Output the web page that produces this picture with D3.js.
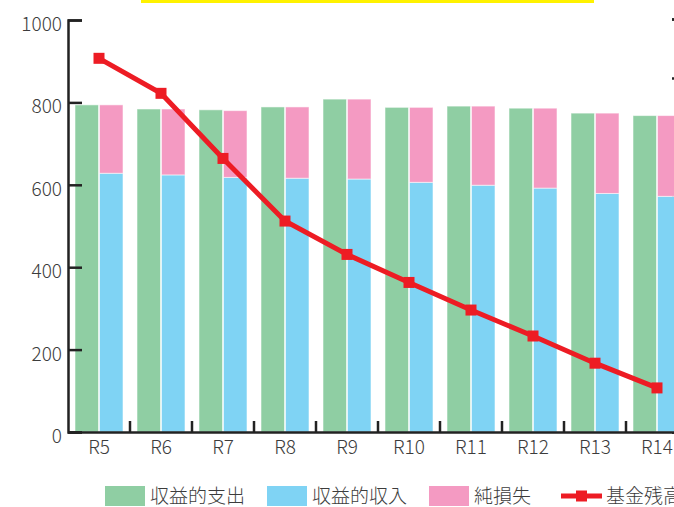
<!DOCTYPE html>
<html>
<head>
<meta charset="utf-8">
<script src="https://cdn.jsdelivr.net/npm/d3@7"></script>
<style>
  body { margin: 0; overflow: hidden; background: #fff; }
  text { font-family: "Noto Sans CJK JP", "Noto Sans", sans-serif; fill: #3c3c3c; font-weight: 300; }
</style>
</head>
<body>
<div id="wrapper"></div>
<script>
// data
const categories = ["R5", "R6", "R7", "R8", "R9", "R10", "R11", "R12", "R13", "R14"]
const expense = [794, 784, 782, 789, 808, 788, 791, 786, 774, 768]   // 収益的支出
const income = [628, 624, 618, 616, 614, 606, 599, 592, 579, 572]    // 収益的収入
const netLoss = [166, 160, 162, 173, 194, 182, 192, 194, 195, 196]   // 純損失
const fundBalance = [907, 822, 664, 512, 431, 363, 296, 233, 167, 107] // 基金残高
const yTicks = [0, 200, 400, 600, 800, 1000]
const seriesNames = ["収益的支出", "収益的収入", "純損失", "基金残高"]

const colors = {
  expense: "#8fcea3",
  income: "#7fd3f4",
  loss: "#f49ac2",
  line: "#ed1c24",
}

const dimensions = {
  width: 760,
  height: 507,
  left: 68,
  top: 20,
  bottom: 432,
  step: 62,
}

const svg = d3.select("#wrapper")
  .append("svg")
    .attr("width", dimensions.width)
    .attr("height", dimensions.height)

// yellow title strip (cropped)
svg.append("rect")
  .attr("x", 141).attr("y", 0)
  .attr("width", 453).attr("height", 3)
  .attr("fill", "#fff200")

// scales
const xScale = d3.scaleBand()
  .domain(categories)
  .range([dimensions.left, dimensions.left + dimensions.step * categories.length])

const xSub = d3.scaleBand()
  .domain(["a", "b"])
  .range([7, 55])
  .paddingInner(0.04)

const yScale = d3.scaleLinear()
  .domain([0, 1000])
  .range([dimensions.bottom, dimensions.top])

// right axis (mostly off screen)
const yRight = d3.scaleLinear()
  .domain([0, 7])
  .range([dimensions.bottom, 19])
svg.append("g")
  .attr("transform", `translate(686,0)`)
  .call(d3.axisRight(yRight).ticks(7).tickSize(-14).tickFormat(""))
  .call(g => g.selectAll("line").attr("stroke", "#222").attr("stroke-width", 2.5))
  .call(g => g.select(".domain").attr("stroke", "#222").attr("stroke-width", 2.5))

// bars
const barGroup = svg.append("g")
const idx = d3.range(categories.length)

barGroup.selectAll(".bar-exp")
  .data(idx)
  .join("rect")
    .attr("x", i => xScale(categories[i]) + xSub("a"))
    .attr("width", xSub.bandwidth())
    .attr("y", i => yScale(expense[i]))
    .attr("height", i => yScale(0) - yScale(expense[i]))
    .attr("fill", colors.expense)

barGroup.selectAll(".bar-inc")
  .data(idx)
  .join("rect")
    .attr("x", i => xScale(categories[i]) + xSub("b"))
    .attr("width", xSub.bandwidth())
    .attr("y", i => yScale(income[i]))
    .attr("height", i => yScale(0) - yScale(income[i]))
    .attr("fill", colors.income)

barGroup.selectAll(".bar-loss")
  .data(idx)
  .join("rect")
    .attr("x", i => xScale(categories[i]) + xSub("b"))
    .attr("width", xSub.bandwidth())
    .attr("y", i => yScale(income[i] + netLoss[i]))
    .attr("height", i => yScale(income[i]) - yScale(income[i] + netLoss[i]))
    .attr("fill", colors.loss)

barGroup.selectAll("rect")
  .attr("stroke", "#fff")
  .attr("stroke-opacity", 0.55)
  .attr("stroke-width", 1)

// y axis
const yAxis = svg.append("g")
  .attr("transform", `translate(${dimensions.left},0)`)
  .call(d3.axisLeft(yScale).tickValues(yTicks).tickFormat(d3.format("d")).tickSize(-14))
yAxis.select(".domain").attr("stroke", "#222").attr("stroke-width", 2.5)
yAxis.selectAll(".tick line").attr("stroke", "#222").attr("stroke-width", 2.5)
yAxis.selectAll(".tick text")
  .attr("x", -6)
  .attr("dy", "0.55em")
  .style("font-size", "19px")

// x axis
const xAxis = svg.append("g")
  .attr("transform", `translate(0,${dimensions.bottom})`)
  .call(d3.axisBottom(xScale).tickSize(0).tickPadding(9))
xAxis.select(".domain").attr("stroke", "#222").attr("stroke-width", 2.5)
xAxis.selectAll(".tick text").style("font-size", "19px")
xAxis.selectAll(".sep")
  .data(categories.slice(1))
  .join("line")
    .attr("x1", d => xScale(d))
    .attr("x2", d => xScale(d))
    .attr("y1", 0)
    .attr("y2", -11)
    .attr("stroke", "#222")
    .attr("stroke-width", 2.5)

// fund balance line
const lineGen = d3.line()
  .x(i => xScale(categories[i]) + xScale.bandwidth() / 2)
  .y(i => yScale(fundBalance[i]))

svg.append("path")
  .attr("d", lineGen(idx))
  .attr("fill", "none")
  .attr("stroke", colors.line)
  .attr("stroke-width", 5)

svg.selectAll(".marker")
  .data(idx)
  .join("rect")
    .attr("x", i => xScale(categories[i]) + xScale.bandwidth() / 2 - 5.5)
    .attr("y", i => yScale(fundBalance[i]) - 5.5)
    .attr("width", 11)
    .attr("height", 11)
    .attr("fill", colors.line)

// legend
const legendItems = [
  { name: seriesNames[0], x: 105, type: "box", color: colors.expense },
  { name: seriesNames[1], x: 267, type: "box", color: colors.income },
  { name: seriesNames[2], x: 429, type: "box", color: colors.loss },
  { name: seriesNames[3], x: 561, type: "line", color: colors.line },
]
const legend = svg.append("g").attr("transform", "translate(0,496)")
legendItems.forEach(item => {
  const g = legend.append("g").attr("transform", `translate(${item.x},0)`)
  if (item.type === "box") {
    g.append("rect")
      .attr("x", 0).attr("y", -10)
      .attr("width", 40).attr("height", 20)
      .attr("fill", item.color)
  } else {
    g.append("line")
      .attr("x1", 0).attr("x2", 41)
      .attr("y1", 0).attr("y2", 0)
      .attr("stroke", item.color)
      .attr("stroke-width", 5)
    g.append("rect")
      .attr("x", 15).attr("y", -5.5)
      .attr("width", 11).attr("height", 11)
      .attr("fill", item.color)
  }
  g.append("text")
    .attr("x", 45)
    .attr("y", 0)
    .attr("dy", "0.35em")
    .style("font-size", "19px")
    .text(item.name)
})
</script>
</body>
</html>
